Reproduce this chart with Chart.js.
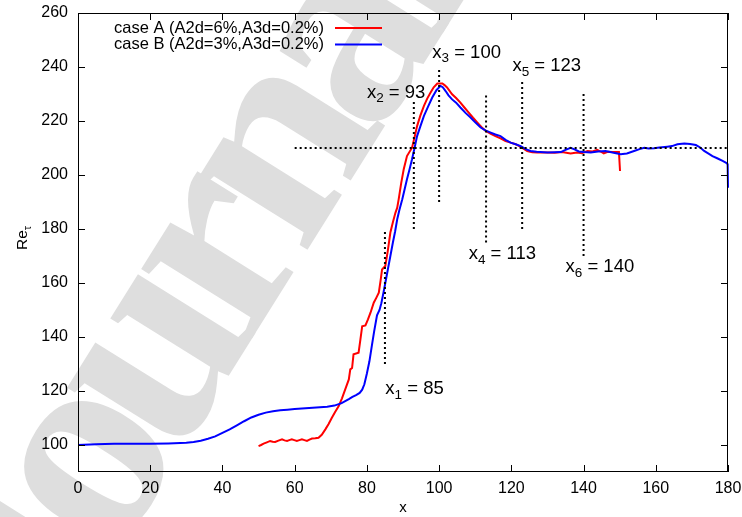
<!DOCTYPE html>
<html>
<head>
<meta charset="utf-8">
<script src="https://cdn.jsdelivr.net/npm/chart.js@4.4.1/dist/chart.umd.min.js"></script>
<style>
  html, body { margin: 0; padding: 0; background: #fff; }
  canvas { display: block; }
</style>
</head>
<body>
<canvas id="retauChart" width="742" height="517"></canvas>
<script>
// case A (red) and case B (blue)
const caseA_x = [50, 50.7, 51.4, 52.3, 53.2, 53.9, 54.6, 55.5, 56.5, 57.2, 57.9, 58.5, 59.2, 59.9, 60.6, 61.3, 62, 62.7, 63.4, 64.1, 64.8, 65.7, 66.6, 67.5, 68.5, 69.4, 70.3, 71.2, 72.2, 73.1, 74, 75, 75.4, 75.9, 76.3, 77.7, 78.2, 78.7, 79.6, 80.3, 81, 81.9, 82.6, 83.3, 83.8, 84.2, 85.1, 85.8, 86.5, 87.2, 87.9, 88.4, 88.8, 89.5, 90.2, 91.1, 92.5, 93.2, 93.9, 94.8, 95.8, 96.7, 97.6, 98.5, 99.5, 100.9, 101.5, 102.2, 103.6, 104.7, 105.9, 107, 108.2, 109.4, 110.6, 111.7, 112.9, 114.2, 115.6, 117, 118.4, 119.8, 121.2, 122.8, 124.4, 125.8, 127.2, 130, 132, 134, 136.4, 138.2, 139.5, 141.1, 142.5, 143.8, 144.7, 145.6, 146.7, 147.9, 149.8, 150.1];
const caseA_y = [99.6, 100, 100.5, 101, 101.5, 101.2, 101.1, 101.6, 102.1, 101.7, 101.5, 101.8, 102.1, 101.8, 101.5, 101.8, 102.1, 101.8, 101.5, 102, 102.4, 102.5, 102.7, 103.8, 105.8, 107.8, 110.1, 112.2, 114.4, 117.3, 120.6, 124.3, 128, 128.5, 133.6, 134.2, 139, 144, 144.3, 146.5, 149, 152.7, 154.5, 156.4, 161, 165, 166.3, 172, 178.7, 182.5, 186, 187.9, 191, 197, 202.1, 207, 210.1, 214, 218.1, 222, 225.6, 228.3, 230.5, 232.5, 233.9, 233.9, 233.3, 232.4, 229.9, 228.5, 226.8, 225, 223.1, 221.2, 219.4, 217.8, 216.3, 215.3, 214.4, 213.6, 212.6, 212, 211.4, 210.2, 208.9, 208.4, 208.3, 208.3, 208.2, 208.5, 208, 208.3, 208.1, 208.9, 208.7, 209.3, 208.7, 208, 208.6, 208.5, 208.5, 201.5];

const caseB_x = [0, 5, 10, 15, 20, 25, 30, 32, 34, 36, 38, 40, 42, 44, 46, 48, 50, 52, 54, 56, 58, 60, 63, 66, 69, 71, 73, 75, 76, 77, 78, 78.7, 79.3, 80, 80.7, 81.4, 82, 82.8, 83.5, 84, 84.6, 85.1, 85.8, 86.5, 87.2, 87.8, 88.4, 89, 89.8, 90.5, 91.1, 91.8, 92.5, 93.2, 93.9, 94.8, 95.8, 97, 98.1, 99.3, 100.4, 101, 101.8, 102.6, 103.6, 104.7, 105.9, 107.3, 108.7, 110, 111.5, 112.8, 114.3, 115.6, 117, 118.4, 119.8, 121.2, 122.6, 124, 125.3, 127, 130, 132, 133.7, 135, 136.4, 137.5, 138.7, 140, 142, 144, 146.1, 148, 150.3, 152, 154, 155.5, 156.8, 158, 159.5, 161, 163.2, 164.5, 166, 167.9, 169.5, 171.1, 172.3, 173.4, 174.5, 175.7, 177, 178.5, 179.5, 179.9, 180];
const caseB_y = [100, 100.3, 100.5, 100.5, 100.5, 100.6, 100.8, 101.1, 101.6, 102.3, 103.2, 104.5, 105.8, 107.3, 108.8, 110.2, 111.2, 112, 112.5, 112.9, 113.1, 113.3, 113.6, 113.9, 114.2, 114.6, 115.5, 117, 117.8, 118.5, 119.3, 120.5, 122.5, 126.5, 131, 137, 142, 148, 150, 152.5, 156.5, 160, 165, 170, 175, 179, 183.6, 187, 191, 195, 198.4, 202, 205.8, 210, 214.4, 218, 221.9, 225.5, 228.7, 231.5, 233, 232.5, 231.1, 229.5, 228, 226.8, 225, 223, 221.3, 219.5, 217.6, 216.5, 215.7, 215, 214.4, 213, 212, 211.4, 210.7, 209.6, 208.9, 208.6, 208.3, 208.4, 208.5, 209.3, 210.1, 209.5, 208.7, 208.5, 208.3, 208.7, 208.9, 208.3, 207.7, 208, 208.9, 209.6, 210.1, 209.8, 209.9, 210.2, 210.5, 210.7, 211.4, 211.7, 211.5, 211.1, 210.2, 208.9, 208, 207, 206.2, 205.2, 204.5, 204, 195.3];

// dotted markers x1..x6 and the reference level
const markerX = [85, 93, 100, 113, 123, 140];
const markerLow = [130, 180, 190, 175, 180, 170];
const markerHigh = [180, 228, 240, 230, 235, 230];
const refLevel = 210;
const refFrom = 60;
const refTo = 180;

const xTicks = [0, 20, 40, 60, 80, 100, 120, 140, 160, 180];
const yTicks = [100, 120, 140, 160, 180, 200, 220, 240, 260];

const seriesNames = ["case A (A2d=6%,A3d=0.2%)", "case B (A2d=3%,A3d=0.2%)"];
const seriesColors = ["#ff0000", "#0000ff"];

// where the "x_i = ..." labels sit, in data units (left edge, middle)
const labelAnchors = [[85.1, 120.6], [80.0, 230.5], [98.1, 245.4], [108.2, 170.8], [120.3, 240.4], [135.0, 165.8]];

const FONT = "'Liberation Sans', Arial, sans-serif";

function toPoints(xs, ys) {
  return xs.map((x, i) => ({ x: x, y: ys[i] }));
}

const datasets = [];
markerX.forEach((mx, i) => {
  datasets.push({
    data: [{ x: mx, y: markerLow[i] }, { x: mx, y: markerHigh[i] }],
    borderColor: "#000",
    borderWidth: 2,
    borderDash: [2, 3],
    order: 0,
  });
});
datasets.push({
  data: [{ x: refFrom, y: refLevel }, { x: refTo, y: refLevel }],
  borderColor: "#000",
  borderWidth: 2,
  borderDash: [2, 3],
  order: 0,
});
datasets.push({
  label: seriesNames[1],
  data: toPoints(caseB_x, caseB_y),
  borderColor: seriesColors[1],
  borderWidth: 2,
  clip: 2,
  order: 1,
});
datasets.push({
  label: seriesNames[0],
  data: toPoints(caseA_x, caseA_y),
  borderColor: seriesColors[0],
  borderWidth: 2,
  order: 2,
});

// light grey watermark behind everything
const watermark = {
  id: "watermark",
  beforeDraw(chart) {
    const ctx = chart.ctx;
    ctx.save();
    ctx.fillStyle = "#fff";
    ctx.fillRect(0, 0, chart.width, chart.height);
    ctx.translate(48, 665);
    ctx.rotate(-58 * Math.PI / 180);
    ctx.fillStyle = "#dedede";
    ctx.font = "bold 285px 'Liberation Serif', 'DejaVu Serif', serif";
    if ("letterSpacing" in ctx) ctx.letterSpacing = "-22px";
    ctx.textBaseline = "alphabetic";
    ctx.fillText("Journal", 0, 0);
    ctx.restore();
  },
};

function subText(ctx, x, y, main, sub, rest, size, subSize, drop) {
  ctx.font = size + "px " + FONT;
  ctx.fillText(main, x, y);
  x += ctx.measureText(main).width;
  ctx.font = subSize + "px " + FONT;
  ctx.fillText(sub, x, y + drop);
  x += ctx.measureText(sub).width;
  ctx.font = size + "px " + FONT;
  ctx.fillText(rest, x, y);
}

// frame, mirrored inward ticks, legend, labels, axis titles
const decorations = {
  id: "decorations",
  afterDraw(chart) {
    const ctx = chart.ctx;
    const a = chart.chartArea;
    const xs = chart.scales.x;
    const ys = chart.scales.y;
    ctx.save();
    ctx.strokeStyle = "#000";
    ctx.lineWidth = 1;
    ctx.strokeRect(a.left + 0.5, a.top + 0.5, a.right - a.left - 1, a.bottom - a.top - 1);
    const tl = 7;
    ctx.beginPath();
    xTicks.forEach((v) => {
      const px = Math.round(xs.getPixelForValue(v)) + 0.5;
      ctx.moveTo(px, a.bottom);
      ctx.lineTo(px, a.bottom - tl);
      ctx.moveTo(px, a.top);
      ctx.lineTo(px, a.top + tl);
    });
    yTicks.forEach((v) => {
      const py = Math.round(ys.getPixelForValue(v)) + 0.5;
      ctx.moveTo(a.left, py);
      ctx.lineTo(a.left + tl, py);
      ctx.moveTo(a.right, py);
      ctx.lineTo(a.right - tl, py);
    });
    ctx.stroke();

    // legend
    ctx.font = "16.5px " + FONT;
    ctx.fillStyle = "#000";
    ctx.textAlign = "right";
    ctx.textBaseline = "middle";
    seriesNames.forEach((name, i) => {
      const y = 28 + i * 16.6;
      ctx.fillText(name, 324, y);
      ctx.strokeStyle = seriesColors[i];
      ctx.lineWidth = 2;
      ctx.beginPath();
      ctx.moveTo(335, y);
      ctx.lineTo(382, y);
      ctx.stroke();
    });

    // x_i labels
    ctx.textAlign = "left";
    ctx.textBaseline = "middle";
    ctx.fillStyle = "#000";
    markerX.forEach((mx, i) => {
      const px = xs.getPixelForValue(labelAnchors[i][0]);
      const py = ys.getPixelForValue(labelAnchors[i][1]);
      subText(ctx, px, py, "x", String(i + 1), " = " + mx, 18.5, 13.5, 6);
    });

    // axis titles
    ctx.font = "15px " + FONT;
    ctx.textAlign = "center";
    ctx.textBaseline = "middle";
    ctx.fillText("x", (a.left + a.right) / 2, 508);
    ctx.translate(23, 240);
    ctx.rotate(-Math.PI / 2);
    ctx.textAlign = "left";
    subText(ctx, -10, 0, "Re", "\u03c4", "", 15.5, 11, 5);
    ctx.restore();
  },
};

new Chart(document.getElementById("retauChart"), {
  type: "line",
  data: { datasets: datasets },
  options: {
    responsive: false,
    animation: false,
    devicePixelRatio: 1,
    layout: { padding: { top: 13, right: 14, left: 0, bottom: 0 } },
    elements: { point: { radius: 0 }, line: { tension: 0 } },
    plugins: { legend: { display: false }, tooltip: { enabled: false } },
    scales: {
      x: {
        type: "linear",
        min: 0,
        max: 180,
        afterFit: (s) => { s.height = 45; s.paddingLeft = 0; s.paddingRight = 0; },
        afterBuildTicks: (s) => { s.ticks = xTicks.map((v) => ({ value: v })); },
        grid: { display: false, drawTicks: false },
        border: { display: false },
        ticks: { color: "#000", padding: 7, maxRotation: 0, font: { family: FONT, size: 16 } },
      },
      y: {
        type: "linear",
        min: 90,
        max: 260,
        afterFit: (s) => { s.width = 78; s.paddingTop = 0; s.paddingBottom = 0; },
        afterBuildTicks: (s) => { s.ticks = yTicks.map((v) => ({ value: v })); },
        grid: { display: false, drawTicks: false },
        border: { display: false },
        ticks: { color: "#000", padding: 10, font: { family: FONT, size: 16 } },
      },
    },
  },
  plugins: [watermark, decorations],
});
</script>
</body>
</html>
